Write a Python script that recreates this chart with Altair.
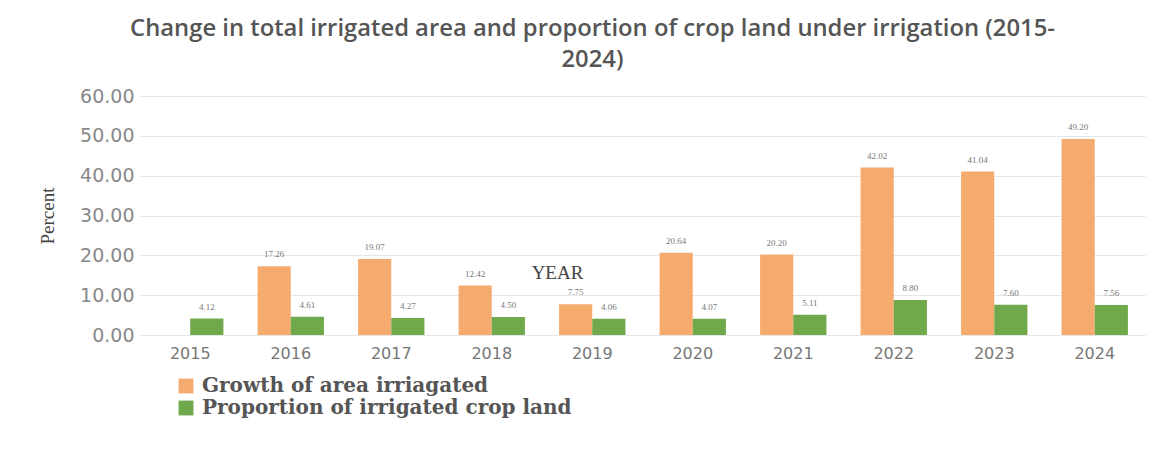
import altair as alt
import pandas as pd

years = ["2015", "2016", "2017", "2018", "2019", "2020", "2021", "2022", "2023", "2024"]
growth = [None, 17.26, 19.07, 12.42, 7.75, 20.64, 20.20, 42.02, 41.04, 49.20]
proportion = [4.12, 4.61, 4.27, 4.50, 4.06, 4.07, 5.11, 8.80, 7.60, 7.56]
series = ["Growth of area irriagated", "Proportion of irrigated crop land"]
colors = ["#F5AA6E", "#6FA94C"]
y_ticks = [0, 10, 20, 30, 40, 50, 60]

rows = []
for i, yr in enumerate(years):
    rows.append({"year": yr, "series": series[0], "value": growth[i]})
    rows.append({"year": yr, "series": series[1], "value": proportion[i]})
df = pd.DataFrame(rows)

x_axis = alt.Axis(
    title="YEAR",
    titleFont="Liberation Serif",
    titleFontSize=19,
    titleFontWeight="normal",
    titleColor="#444",
    titleX=417,
    titleY=-72,
    titleAnchor="middle",
    labelAngle=0,
    labelFont="DejaVu Sans",
    labelFontSize=16,
    labelColor="#777",
    labelPadding=10,
    ticks=False,
    domain=False,
    grid=False,
)
y_axis = alt.Axis(
    values=y_ticks,
    tickCount=7,
    format=".2f",
    labelOverlap=False,
    title="Percent",
    titleFont="Liberation Serif",
    titleFontSize=19,
    titleFontWeight="normal",
    titleColor="#444",
    titlePadding=22,
    labelFont="DejaVu Sans",
    labelFontSize=19,
    labelColor="#888",
    labelPadding=6,
    ticks=False,
    domain=False,
    grid=True,
    gridColor="#e6e6e6",
    gridWidth=1.2,
)

x_enc = alt.X("year:N", sort=years,
              scale=alt.Scale(paddingInner=0.34, paddingOuter=0.17), axis=x_axis)
y_enc = alt.Y("value:Q", scale=alt.Scale(domain=[0, 60], nice=False), axis=y_axis)
xoff = alt.XOffset("series:N", sort=series, scale=alt.Scale(paddingInner=0))

bars = alt.Chart(df).mark_bar().encode(
    x=x_enc,
    y=y_enc,
    xOffset=xoff,
    color=alt.Color(
        "series:N",
        scale=alt.Scale(domain=series, range=colors),
        legend=alt.Legend(
            title=None,
            orient="none",
            legendX=36,
            legendY=280,
            symbolType="square",
            symbolSize=220,
            symbolStrokeWidth=0,
            labelFont="DejaVu Serif",
            labelFontSize=20,
            labelFontWeight="bold",
            labelColor="#555",
            labelLimit=600,
            rowPadding=2,
            labelOffset=6,
        ),
    ),
)

labels = alt.Chart(df).mark_text(
    dy=-7, fontSize=9, font="Liberation Serif", color="#777", baseline="bottom"
).encode(
    x=x_enc,
    y=y_enc,
    xOffset=xoff,
    text=alt.Text("value:Q", format=".2f"),
)

chart = (
    alt.layer(bars, labels)
    .properties(
        width=1005,
        height=239,
        autosize=alt.AutoSizeParams(type="none"),
        padding={"left": 132, "top": 88, "right": 5, "bottom": 110},
        view=alt.ViewBackground(stroke="transparent", strokeWidth=0),
        title=alt.TitleParams(
            text=[
                "Change in total irrigated area and proportion of crop land under irrigation (2015-",
                "2024)",
            ],
            font="Open Sans",
            fontSize=23.8,
            fontWeight=600,
            color="#555",
            lineHeight=31,
            anchor="middle",
            dx=-50,
            offset=15,
        ),
    )
    .configure_view(stroke="transparent", strokeWidth=0)
    .configure_axis(domain=False)
    .configure_axisX(grid=False, domain=False)
    .configure(background="white")
)

chart.save("out.html", embed_options={"renderer": "svg", "actions": False})
